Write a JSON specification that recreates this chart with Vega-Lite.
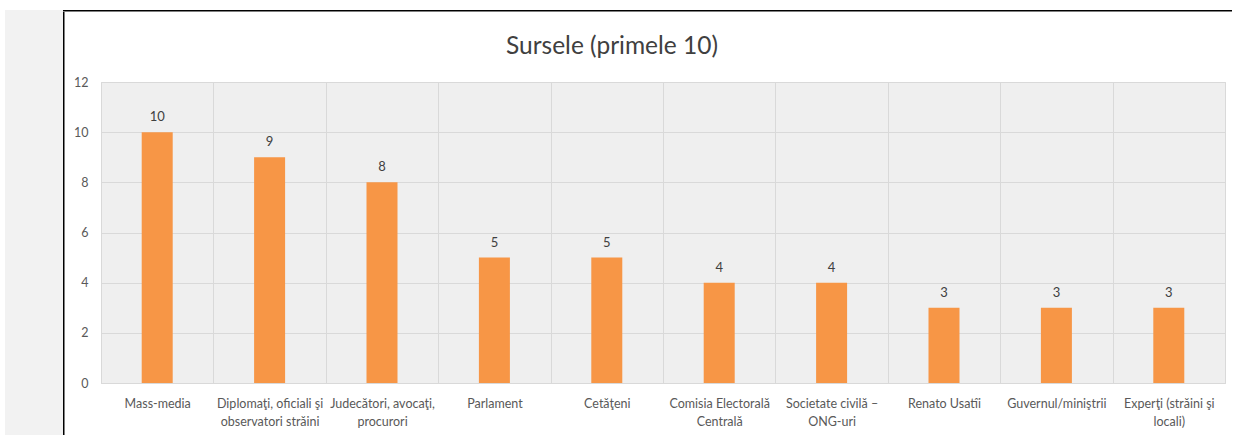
{
  "$schema": "https://vega.github.io/schema/vega-lite/v6.json",
  "padding": {"left": 5, "top": 10, "right": 0, "bottom": 0},
  "background": "white",
  "config": {"view": {"stroke": null}, "font": "Lato"},
  "spacing": 0,
  "hconcat": [
    {
      "width": 58,
      "height": 425,
      "view": {"fill": "#f2f2f2", "stroke": null},
      "data": {"values": []},
      "mark": "rect",
      "encoding": {}
    },
    {
      "spacing": 0,
      "vconcat": [
        {
          "width": 1169,
          "height": 1.5,
          "view": {"fill": "#000000", "stroke": null},
          "data": {"values": []},
          "mark": "rect",
          "encoding": {}
        },
        {
          "spacing": 8,
          "hconcat": [
            {
              "width": 1.5,
              "height": 424,
              "view": {"fill": "#000000", "stroke": null},
              "data": {"values": []},
              "mark": "rect",
              "encoding": {}
            },
            {
              "spacing": 0,
              "vconcat": [
                {
                  "width": 1,
                  "height": 1,
                  "view": {"fill": null, "stroke": null},
                  "data": {"values": []},
                  "mark": "rect",
                  "encoding": {}
                },
                {
                  "width": 1124,
                  "height": 301,
                  "view": {"fill": "#efefef", "stroke": "#d9d9d9"},
                  "title": {
                    "text": ["", "Sursele (primele 10)"],
                    "fontSize": 24.5,
                    "font": "Lato",
                    "fontWeight": "normal",
                    "color": "#404040",
                    "lineHeight": 20,
                    "offset": 17,
                    "frame": "group",
                    "anchor": "middle",
                    "dx": -51
                  },
                  "data": {
                    "values": [
                      {"sursa": "Mass-media", "n": 10},
                      {"sursa": "Diplomaţi, oficiali şi observatori străini", "n": 9},
                      {"sursa": "Judecători, avocaţi, procurori", "n": 8},
                      {"sursa": "Parlament", "n": 5},
                      {"sursa": "Cetăţeni", "n": 5},
                      {"sursa": "Comisia Electorală Centrală", "n": 4},
                      {"sursa": "Societate civilă – ONG-uri", "n": 4},
                      {"sursa": "Renato Usatîi", "n": 3},
                      {"sursa": "Guvernul/miniştrii", "n": 3},
                      {"sursa": "Experţi (străini şi locali)", "n": 3}
                    ]
                  },
                  "encoding": {
                    "x": {
                      "field": "sursa",
                      "type": "nominal",
                      "sort": null,
                      "scale": {"paddingInner": 0, "paddingOuter": 0},
                      "axis": {
                        "title": null,
                        "labelAngle": 0,
                        "ticks": false,
                        "tickBand": "extent",
                        "grid": true,
                        "gridColor": "#d9d9d9",
                        "domainColor": "#d9d9d9",
                        "labelColor": "#595959",
                        "labelFontSize": 12.5,
                        "labelPadding": 14.5,
                        "labelLineHeight": 18,
                        "labelLimit": 300,
                        "labelExpr": "datum.label == 'Diplomaţi, oficiali şi observatori străini' ? ['Diplomaţi, oficiali şi', 'observatori străini'] : datum.label == 'Judecători, avocaţi, procurori' ? ['Judecători, avocaţi,', 'procurori'] : datum.label == 'Comisia Electorală Centrală' ? ['Comisia Electorală', 'Centrală'] : datum.label == 'Societate civilă – ONG-uri' ? ['Societate civilă –', 'ONG-uri'] : datum.label == 'Experţi (străini şi locali)' ? ['Experţi (străini şi', 'locali)'] : datum.label"
                      }
                    },
                    "y": {
                      "field": "n",
                      "type": "quantitative",
                      "scale": {"domain": [0, 12]},
                      "axis": {
                        "title": null,
                        "values": [0, 2, 4, 6, 8, 10, 12],
                        "domain": false,
                        "ticks": false,
                        "gridColor": "#d9d9d9",
                        "labelColor": "#595959",
                        "labelFontSize": 12.5,
                        "labelPadding": 13
                      }
                    }
                  },
                  "layer": [
                    {"mark": {"type": "bar", "size": 31, "color": "#F79646"}},
                    {
                      "mark": {"type": "text", "dy": -11, "baseline": "alphabetic", "fontSize": 13, "color": "#404040"},
                      "encoding": {"text": {"field": "n", "type": "quantitative"}}
                    }
                  ]
                }
              ]
            }
          ]
        }
      ]
    }
  ]
}
